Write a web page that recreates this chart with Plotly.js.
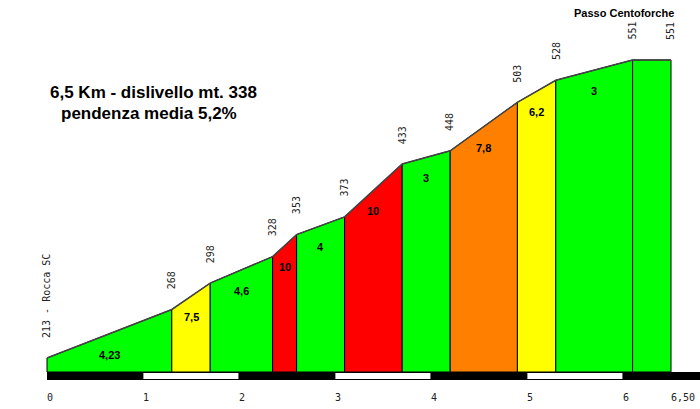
<!DOCTYPE html>
<html>
<head>
<meta charset="utf-8">
<script src="https://cdn.plot.ly/plotly-3.0.1.min.js"></script>
<style>html,body{margin:0;padding:0;background:#fff;}#chart{width:700px;height:409px;}</style>
</head>
<body>
<div id="chart"></div>
<script>
// ---- data ----
const distKm = [0, 1.3, 1.7, 2.35, 2.6, 3.1, 3.7, 4.2, 4.9, 5.3, 6.1, 6.5];
const elevM = [213, 268, 298, 328, 353, 373, 433, 448, 503, 528, 551, 551];
const gradeLabels = ['4,23', '7,5', '4,6', '10', '4', '10', '3', '7,8', '6,2', '3', ''];
const gradeClass = ['g', 'y', 'g', 'r', 'g', 'r', 'g', 'o', 'y', 'g', 'g'];
const elevLabels = ['213 - Rocca SC', '268', '298', '328', '353', '373', '433', '448', '503', '528', '551', '551'];
const kmTicks = [0, 1, 2, 3, 4, 5, 6, 6.5];
const kmTickLabels = ['0', '1', '2', '3', '4', '5', '6', '6,50'];
const summitName = 'Passo Centoforche';
const titleLine1 = '6,5 Km - dislivello mt. 338';
const titleLine2 = 'pendenza media 5,2%';

// ---- styles ----
const palette = {g: '#00ff00', y: '#ffff00', o: '#ff8000', r: '#ff0000'};
const W = 700, H = 409;
const pxPerKm = 96, x0px = 47;
const pxPerM = 0.8817, baseElev = 197.1, basePx = 372;
const xRange = [-x0px / pxPerKm, (W - x0px) / pxPerKm];
const yRange = [baseElev - (H - basePx) / pxPerM, baseElev + basePx / pxPerM];
const py = p => 1 - p / H;
const mono = 'DejaVu Sans Mono, monospace';
const sans = 'Liberation Sans, Arial, sans-serif';

const traces = [];
for (let i = 0; i < distKm.length - 1; i++) {
  traces.push({
    x: [distKm[i], distKm[i], distKm[i + 1], distKm[i + 1], distKm[i]],
    y: [baseElev, elevM[i], elevM[i + 1], baseElev, baseElev],
    mode: 'lines', fill: 'toself', fillcolor: palette[gradeClass[i]],
    line: {color: '#000', width: 1}, hoverinfo: 'skip', showlegend: false
  });
}
traces.push({
  x: distKm, y: elevM, mode: 'lines',
  line: {color: '#444', width: 1.5}, hoverinfo: 'skip', showlegend: false
});

const annotations = [];
for (let i = 0; i < gradeLabels.length; i++) {
  if (!gradeLabels[i]) continue;
  annotations.push({
    x: (distKm[i] + distKm[i + 1]) / 2, y: (elevM[i] + elevM[i + 1]) / 2,
    xref: 'x', yref: 'y', text: '<b>' + gradeLabels[i] + '</b>', showarrow: false,
    yshift: -21, font: {family: sans, size: 11, color: '#000'}
  });
}
for (let i = 0; i < elevLabels.length; i++) {
  annotations.push({
    x: distKm[i], y: elevM[i], xref: 'x', yref: 'y', text: elevLabels[i],
    showarrow: false, textangle: -90, yanchor: 'bottom', xanchor: 'center',
    yshift: 18, font: {family: mono, size: 10, color: '#222'}
  });
}
for (let i = 0; i < kmTicks.length; i++) {
  annotations.push({
    x: kmTicks[i], y: py(397), xref: 'x', yref: 'paper', text: kmTickLabels[i],
    showarrow: false, xanchor: 'left', yanchor: 'middle', xshift: -2,
    font: {family: mono, size: 10, color: '#222'}
  });
}
annotations.push({
  x: 676 / W, y: py(13), xref: 'paper', yref: 'paper', text: '<b>' + summitName + '</b>',
  showarrow: false, xanchor: 'right', yanchor: 'middle', font: {family: sans, size: 11, color: '#000'}
});
annotations.push({
  x: 153 / W, y: py(92), xref: 'paper', yref: 'paper', text: '<b>' + titleLine1 + '</b>',
  showarrow: false, xanchor: 'center', yanchor: 'middle', font: {family: sans, size: 17, color: '#000'}
});
annotations.push({
  x: 149 / W, y: py(113), xref: 'paper', yref: 'paper', text: '<b>' + titleLine2 + '</b>',
  showarrow: false, xanchor: 'center', yanchor: 'middle', font: {family: sans, size: 17, color: '#000'}
});

const shapes = [{
  type: 'rect', xref: 'x', yref: 'paper', x0: 0, x1: xRange[1], y0: py(380), y1: py(372),
  fillcolor: '#000', line: {width: 0}, layer: 'above'
}];
for (let k = 1; k < 6; k += 2) {
  shapes.push({
    type: 'rect', xref: 'x', yref: 'paper', x0: k + 0.004, x1: k + 0.994, y0: py(379), y1: py(373),
    fillcolor: '#fff', line: {width: 0}, layer: 'above'
  });
}

const layout = {
  width: W, height: H, margin: {l: 0, r: 0, t: 0, b: 0},
  paper_bgcolor: '#fff', plot_bgcolor: '#fff',
  xaxis: {range: xRange, visible: false, fixedrange: true},
  yaxis: {range: yRange, visible: false, fixedrange: true},
  annotations: annotations, shapes: shapes, showlegend: false
};
Plotly.newPlot('chart', traces, layout, {displayModeBar: false, staticPlot: true});
</script>
</body>
</html>
